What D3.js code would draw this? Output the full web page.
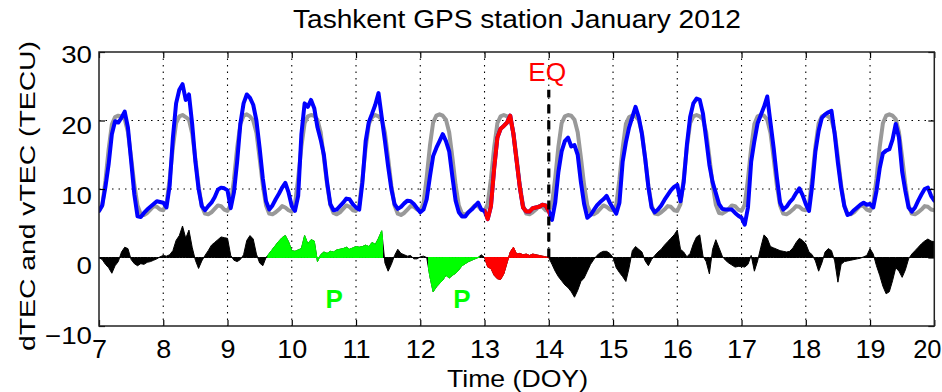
<!DOCTYPE html>
<html><head><meta charset="utf-8">
<script src="https://cdn.jsdelivr.net/npm/d3@7"></script>
<style>
body{margin:0;background:#fff}
svg{display:block}
text{font-family:"Liberation Sans",Arial,Helvetica,sans-serif;fill:#000}
</style>
</head><body>
<svg id="chart" width="942" height="392"></svg>
<script>
// ---------------- data ----------------
const chartTitle = "Tashkent GPS station January 2012";
const xAxisLabel = "Time (DOY)";
const yAxisLabel = "dTEC and vTEC (TECU)";
const xTickValues = [7,8,9,10,11,12,13,14,15,16,17,18,19,20];
const yTickValues = [-10,0,10,20,30];
const xDomain = [7, 20];
const yDomain = [-10, 30];

// samples every 0.05 day starting at DOY 7.00
const sampleStartDOY = 7;
const sampleStepDays = 0.05;

// median (reference) vTEC, grey
const medianTEC = [
6.8,7.6,11.2,15.8,19.4,20.5,20.7,20.6,20.2,18.3,14.6,10.6,7.6,6.3,6.2,6.5,7.0,7.5,7.4,7.0,
6.9,7.8,11.5,16.1,19.6,20.6,20.8,20.5,20.1,18.1,14.4,10.4,7.5,6.4,6.3,6.6,7.1,7.6,7.5,7.0,
6.8,7.7,11.4,16.0,19.5,20.7,20.9,20.6,20.0,18.2,14.5,10.5,7.6,6.4,6.3,6.6,7.0,7.5,7.3,6.9,
6.7,7.8,11.6,16.2,19.6,20.6,20.8,20.7,20.1,18.3,14.6,10.6,7.7,6.5,6.3,6.6,7.1,7.6,7.4,6.9,
6.8,7.7,11.5,16.0,19.5,20.5,20.8,20.6,20.2,18.2,14.5,10.5,7.6,6.4,6.2,6.5,7.0,7.5,7.4,7.0,
6.9,7.9,11.7,16.3,19.7,20.7,20.9,20.7,20.1,18.3,14.6,10.6,7.6,6.4,6.3,6.6,7.1,7.6,7.5,7.0,
6.8,7.8,11.5,16.1,19.6,20.6,20.8,20.6,20.2,18.2,14.5,10.5,7.6,6.4,6.3,6.6,7.0,7.5,7.4,6.9,
6.8,7.8,11.6,16.2,19.6,20.6,20.8,20.7,20.1,18.3,14.6,10.6,7.6,6.5,6.3,6.6,7.1,7.6,7.4,7.0,
6.9,7.7,11.4,16.0,19.5,20.5,20.7,20.6,20.1,18.2,14.5,10.5,7.6,6.4,6.3,6.6,7.0,7.5,7.4,6.9,
6.8,7.8,11.5,16.1,19.6,20.6,20.8,20.6,20.2,18.3,14.6,10.6,7.7,6.5,6.4,6.7,7.1,7.6,7.5,7.0,
6.8,7.7,11.5,16.0,19.5,20.6,20.8,20.7,20.1,18.2,14.5,10.5,7.6,6.4,6.3,6.6,7.0,7.5,7.4,7.0,
6.9,7.8,11.6,16.2,19.6,20.6,20.8,20.6,20.1,18.3,14.6,10.6,7.6,6.4,6.3,6.6,7.1,7.6,7.5,7.0,
6.8,7.8,11.5,16.1,19.6,20.7,20.9,20.7,20.2,18.3,14.6,10.6,7.6,6.4,6.3,6.6,7.0,7.5,7.4,7.0,
6.9];

// observed vTEC, blue (red on the earthquake day)
const observedTEC = [
6.8,7.6,10.3,13.6,18.0,19.9,19.7,20.4,21.3,19.0,14.1,9.2,6.0,5.9,6.5,7.0,7.4,7.8,8.2,8.1,
8.0,7.3,10.5,17.5,22.5,24.5,25.3,23.0,23.8,19.5,14.0,10.0,7.5,6.9,7.5,8.0,8.8,9.9,10.2,10.1,
9.8,7.2,9.5,14.0,19.5,22.5,23.8,23.3,22.3,20.0,16.0,11.5,8.2,7.0,7.6,8.5,9.3,10.2,10.9,9.5,
7.5,6.8,9.0,18.0,22.5,22.0,23.0,21.8,19.0,17.2,15.0,11.0,7.8,6.9,7.0,7.5,8.0,8.6,8.5,7.8,
7.3,7.0,11.0,17.0,19.8,21.0,22.3,24.0,20.5,17.0,13.3,10.0,7.8,7.1,7.4,7.9,8.3,8.2,7.8,7.2,
6.6,7.0,8.5,11.8,14.8,16.0,17.0,18.0,17.0,15.5,11.8,8.3,6.6,6.0,6.0,6.6,7.0,7.5,8.0,7.0,
6.8,5.6,7.5,13.0,17.5,18.8,19.2,19.7,20.7,18.0,14.1,10.2,7.3,6.7,6.7,7.2,7.3,7.4,7.7,7.6,
6.8,5.5,8.0,12.5,15.5,17.0,17.5,16.2,16.4,15.0,11.0,7.8,5.8,6.2,6.9,7.6,8.1,8.5,9.0,8.0,
7.2,6.4,8.0,14.0,16.8,19.0,20.5,22.0,20.5,18.0,14.5,10.3,7.3,6.6,7.0,7.6,8.4,9.1,9.8,10.3,
10.6,8.2,11.0,16.5,20.5,22.5,23.2,23.0,21.0,17.3,13.5,11.0,9.4,7.8,7.1,7.0,7.0,7.0,6.5,6.1,
5.8,4.8,7.3,14.0,17.0,19.6,20.8,22.0,23.5,19.7,16.0,11.7,8.0,7.0,7.4,8.1,8.6,9.4,10.1,9.1,
7.8,6.8,10.5,15.5,18.5,20.4,20.9,21.2,21.4,18.0,13.8,10.2,7.5,6.2,6.4,6.9,7.3,7.7,8.0,7.7,
7.8,7.3,9.7,13.0,15.2,15.6,15.8,17.2,19.5,17.5,12.5,9.7,7.3,6.7,7.3,8.3,9.2,10.0,10.2,9.0,
8.3];

// differential TEC (observed - median), filled area
const differentialTEC = [
0,-0.3,-1.0,-1.5,-2.3,-1.2,-0.6,0.8,1.5,1.3,-0.3,-0.9,-1.2,-0.9,-1.0,-0.7,-0.6,-0.4,-0.2,0.1,
0.3,0.2,0.4,1.0,2.5,3.2,4.6,2.8,4.0,1.5,-0.4,-1.6,-0.5,0.3,1.0,1.8,2.2,2.6,3.0,2.9,
2.8,0.3,-0.4,-0.6,-0.3,0.4,2.5,3.2,2.7,0.5,-0.8,-1.2,0,0.6,1.2,1.8,2.4,2.9,3.2,2.3,
1.0,0.9,1.1,1.3,3.2,2.0,2.6,2.4,-0.6,0.4,0.8,0.6,0.9,0.8,1.1,1.2,1.3,1.5,1.2,1.4,
1.6,1.5,1.6,1.8,1.6,2.2,1.9,2.8,3.9,-0.8,-2.0,-1.0,0.3,1.2,0.6,0.4,0.2,0.3,-0.2,-0.2,
0.1,0.2,0,-2.8,-5.0,-4.3,-3.8,-3.3,-2.6,-3.0,-2.6,-2.3,-1.8,-1.2,-0.9,-0.6,-0.4,-0.2,0,0.4,
0,-1.4,-1.6,-2.6,-3.1,-3.2,-2.4,-0.8,0.8,1.5,0.5,0.6,0.4,0.5,0.3,0.5,0.4,0.3,0.2,0.1,
0,-1.0,-2.0,-2.8,-3.4,-4.0,-4.4,-5.0,-5.8,-4.8,-3.5,-3.0,-2.0,-1.0,-0.3,0.3,0.7,0.9,0.9,0.6,
0,-1.5,-2.2,-2.8,-3.5,-1.5,1.0,1.6,1.2,0.8,-0.5,-1.2,-0.3,0.3,0.8,1.2,1.8,2.3,2.8,3.3,
4.0,1.2,0.8,0.1,0.6,2.0,3.0,3.3,0.2,-0.6,-2.4,1.2,2.6,1.4,0.2,-0.4,-0.8,-1.1,-1.4,-1.3,
-1.3,-1.4,-1.0,0.3,-2.0,-0.5,1.5,3.3,2.8,1.6,1.4,1.2,1.0,0.9,0.8,0.9,1.4,2.2,2.8,2.5,
2.0,0.8,0.4,-0.5,-2.0,-0.8,0.8,1.3,1.0,-0.5,-3.6,-1.0,-0.6,-0.5,-0.4,-0.3,-0.2,-0.1,0.1,0.3,
1.3,0.5,-1.2,-2.6,-4.2,-5.3,-5.0,-3.4,-1.5,-2.0,-2.9,-1.8,-0.2,0.5,1.0,1.5,2.0,2.4,2.7,2.4,
2.3];

// anomaly periods (DOY)
const precursorPeriods = [[9.62, 11.42], [12.12, 12.92]];
const earthquakeDayWindow = [13.0, 14.0];
const earthquakeDOY = 14;
const earthquakeMarkerTop = 24.5;
const earthquakeLabel = "EQ";
const earthquakeLabelValue = 25.7;
const precursorLabel = "P";
const precursorLabelDOY = [10.66, 12.65];
const precursorLabelValue = -7.3;

// ---------------- drawing ----------------
const svg = d3.select("#chart");
const plot = {left: 99, right: 934.3, top: 52, bottom: 326};
const x = d3.scaleLinear().domain(xDomain).range([plot.left, plot.right]);
const y = d3.scaleLinear().domain(yDomain).range([plot.bottom, plot.top]);
const t = i => sampleStartDOY + i * sampleStepDays;

const defs = svg.append("defs");
function clipFor(id, a, b) {
  defs.append("clipPath").attr("id", id).append("rect")
    .attr("x", x(a)).attr("y", 0).attr("width", x(b) - x(a)).attr("height", 392);
  return "url(#" + id + ")";
}
defs.append("clipPath").attr("id", "plotclip").append("rect")
  .attr("x", plot.left).attr("y", plot.top)
  .attr("width", plot.right - plot.left).attr("height", plot.bottom - plot.top);

// grid
const grid = svg.append("g").attr("stroke", "#000").attr("stroke-width", 1.1)
  .attr("stroke-dasharray", "1.5,5");
grid.selectAll("line.v").data(xTickValues.filter(d => d > xDomain[0] && d < xDomain[1]))
  .join("line").attr("x1", d => x(d)).attr("x2", d => x(d))
  .attr("y1", plot.top).attr("y2", plot.bottom);
grid.selectAll("line.h").data(yTickValues.filter(d => d > yDomain[0] && d < yDomain[1]))
  .join("line").attr("y1", d => y(d)).attr("y2", d => y(d))
  .attr("x1", plot.left).attr("x2", plot.right);

const data = svg.append("g").attr("clip-path", "url(#plotclip)");

const line = d3.line().x((d, i) => x(t(i))).y(d => y(d));
data.append("path").datum(medianTEC).attr("d", line)
  .attr("fill", "none").attr("stroke", "#999999").attr("stroke-width", 4)
  .attr("stroke-linejoin", "round").attr("stroke-linecap", "round");
data.append("path").datum(observedTEC).attr("d", line)
  .attr("fill", "none").attr("stroke", "#0000ff").attr("stroke-width", 4)
  .attr("stroke-linejoin", "round").attr("stroke-linecap", "round");
data.append("g").attr("clip-path", clipFor("eqday-line", earthquakeDayWindow[0], earthquakeDayWindow[1]))
  .append("path").datum(observedTEC).attr("d", line)
  .attr("fill", "none").attr("stroke", "#ff0000").attr("stroke-width", 4)
  .attr("stroke-linejoin", "round").attr("stroke-linecap", "round");

const area = d3.area().x((d, i) => x(t(i))).y0(y(0)).y1(d => y(d));
function drawArea(parent, color) {
  parent.append("path").datum(differentialTEC).attr("d", area)
    .attr("fill", color).attr("stroke", color).attr("stroke-width", 1);
}
drawArea(data, "#000000");
precursorPeriods.forEach((p, k) => {
  drawArea(data.append("g").attr("clip-path", clipFor("prec" + k, p[0], p[1])), "#00ff00");
});
drawArea(data.append("g").attr("clip-path", clipFor("eqday-area", earthquakeDayWindow[0], earthquakeDayWindow[1])), "#ff0000");

// earthquake marker
svg.append("line")
  .attr("x1", x(earthquakeDOY)).attr("x2", x(earthquakeDOY))
  .attr("y1", y(0)).attr("y2", y(earthquakeMarkerTop))
  .attr("stroke", "#000").attr("stroke-width", 3.2).attr("stroke-dasharray", "9,7");

// axes (inward ticks, box)
const tickLen = 6;
const gx = svg.append("g").attr("transform", `translate(0,${plot.bottom})`)
  .call(d3.axisBottom(x).tickValues(xTickValues).tickSizeInner(-tickLen).tickSizeOuter(0).tickFormat(d3.format("d")));
svg.append("g").attr("transform", `translate(0,${plot.top})`)
  .call(d3.axisTop(x).tickValues(xTickValues).tickSizeInner(-tickLen).tickSizeOuter(0).tickFormat(""));
const gy = svg.append("g").attr("transform", `translate(${plot.left},0)`)
  .call(d3.axisLeft(y).tickValues(yTickValues).tickSizeInner(-tickLen).tickSizeOuter(0).tickFormat(d3.format("d")));
svg.append("g").attr("transform", `translate(${plot.right},0)`)
  .call(d3.axisRight(y).tickValues(yTickValues).tickSizeInner(-tickLen).tickSizeOuter(0).tickFormat(""));
svg.selectAll(".domain").remove();
svg.selectAll(".tick line").attr("stroke", "#000").attr("stroke-width", 1.2);

const lastX = xTickValues[xTickValues.length - 1];
gx.selectAll(".tick text")
  .attr("y", null).attr("dy", null)
  .attr("font-size", 25)
  .attr("text-anchor", d => d === lastX ? "end" : "middle")
  .attr("transform", d => d === lastX
      ? `translate(${941 - x(lastX)},31.5) scale(1.02,1)`
      : "translate(0,31.5) scale(1.08,1)")
  .style("font-family", '"Liberation Sans",Arial,sans-serif');
gy.selectAll(".tick text")
  .attr("x", null).attr("dy", null)
  .attr("font-size", 23.5)
  .attr("text-anchor", "end")
  .attr("transform", d => `translate(-7,${2.5 + (30 - d) * 0.16 + 8.4}) scale(1.18,1)`)
  .style("font-family", '"Liberation Sans",Arial,sans-serif');

svg.append("rect").attr("x", plot.left).attr("y", plot.top)
  .attr("width", plot.right - plot.left).attr("height", plot.bottom - plot.top)
  .attr("fill", "none").attr("stroke", "#222").attr("stroke-width", 1.5);

// texts
svg.append("text").text(chartTitle)
  .attr("x", 517).attr("y", 28.3).attr("text-anchor", "middle")
  .attr("font-size", 25.5).attr("textLength", 448).attr("lengthAdjust", "spacingAndGlyphs");
svg.append("text").text(xAxisLabel)
  .attr("x", 517.5).attr("y", 386.5).attr("text-anchor", "middle")
  .attr("font-size", 24).attr("textLength", 141).attr("lengthAdjust", "spacingAndGlyphs");
svg.append("text").text(yAxisLabel)
  .attr("transform", "translate(35,196) rotate(-90)")
  .attr("text-anchor", "middle")
  .attr("font-size", 22).attr("textLength", 310).attr("lengthAdjust", "spacingAndGlyphs");
svg.append("text").text(earthquakeLabel)
  .attr("x", x(earthquakeDOY) - 1.5).attr("y", y(earthquakeLabelValue)).attr("text-anchor", "middle")
  .attr("font-size", 25).style("fill", "#ff0000")
  .attr("textLength", 38).attr("lengthAdjust", "spacingAndGlyphs");
svg.selectAll("text.plabel").data(precursorLabelDOY).join("text").attr("class", "plabel")
  .text(precursorLabel)
  .attr("x", d => x(d)).attr("y", y(precursorLabelValue)).attr("text-anchor", "middle")
  .attr("font-size", 26).attr("font-weight", "bold").style("fill", "#00ff00");
</script>
</body></html>
